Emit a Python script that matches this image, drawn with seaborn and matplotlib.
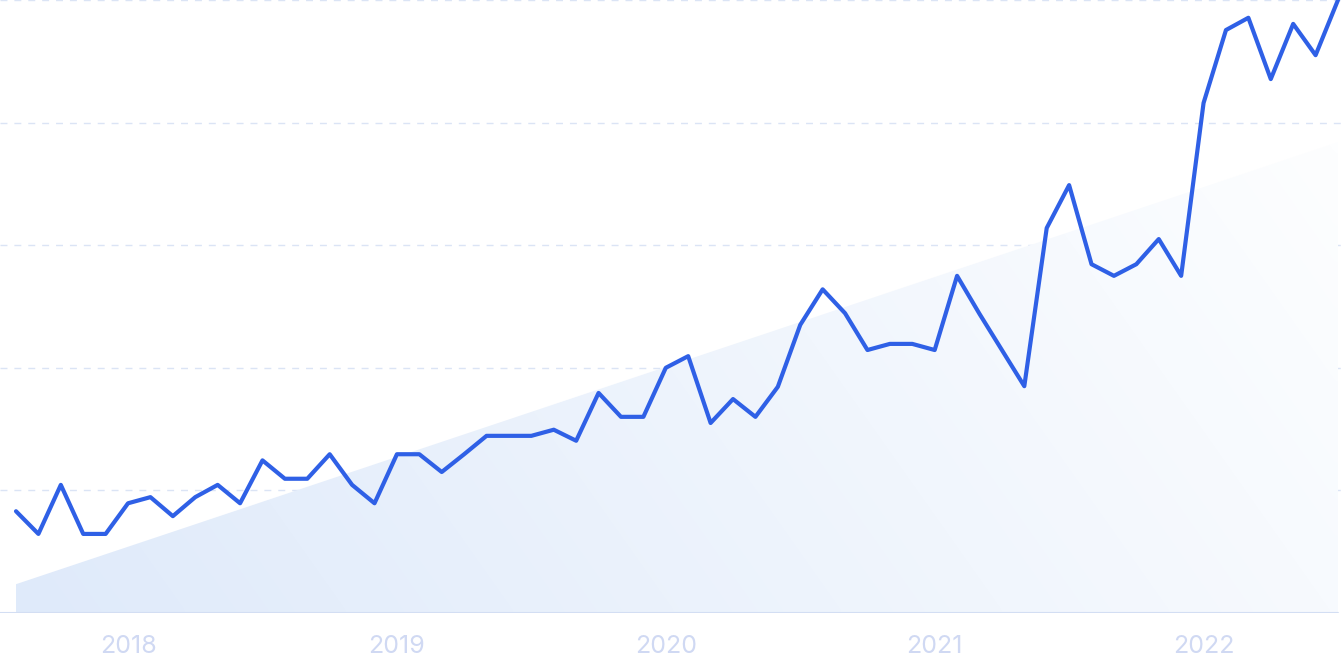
import numpy as np
import pandas as pd
import matplotlib
matplotlib.use("Agg")
import matplotlib.pyplot as plt
import seaborn as sns
from matplotlib.patches import Polygon
from matplotlib.colors import LinearSegmentedColormap

# ---- data (monthly, Aug 2017 .. Jul 2022), scale 0-100 ----
months = pd.date_range("2017-08-01", periods=60, freq="MS")
values = [16.6, 12.9, 20.9, 12.9, 12.9, 17.9, 18.9, 15.8, 18.9, 20.9,
          17.9, 24.9, 21.9, 21.9, 25.9, 20.9, 17.9, 25.9, 25.9, 23.0,
          25.9, 28.9, 28.9, 28.9, 29.9, 28.1, 35.9, 32.0, 32.0, 40.0,
          41.9, 31.0, 34.9, 32.0, 36.9, 47.0, 52.8, 48.9, 42.9, 43.9,
          43.9, 42.9, 55.0, 48.8, 42.9, 37.0, 62.8, 69.8, 56.9, 55.0,
          56.9, 61.0, 55.0, 83.2, 95.1, 97.1, 87.1, 96.1, 91.0, 100.0]
trend_start, trend_end = 4.7, 76.8
year_labels = ["2018", "2019", "2020", "2021", "2022"]
year_idx = [5, 17, 29, 41, 53]

df = pd.DataFrame({"i": np.arange(len(values)), "value": values})

sns.set_theme(style="white")
plt.rcParams["font.family"] = ["Inter", "DejaVu Sans"]

W, H = 1343, 671
fig = plt.figure(figsize=(W / 100, H / 100), dpi=100)
ax = fig.add_axes([0, 58 / H, 1, 613 / H])

n = len(values)
ax.set_xlim(-16 / 22.4, n - 1 + 5 / 22.4)
ax.set_ylim(0, 100)

# gradient trend area
x0, x1 = 0, n - 1
poly = Polygon([[x0, 0], [x0, trend_start], [x1, trend_end], [x1, 0]],
               closed=True, facecolor="none", edgecolor="none")
ax.add_patch(poly)
cmap = LinearSegmentedColormap.from_list("g", ["#dfeafa", "#fdfeff"])
gx, gy = np.meshgrid(np.linspace(0, 1, 300), np.linspace(0, 1, 100))
grad = 0.8 * gx + 0.2 * (1 - gy)
img = ax.imshow(grad, cmap=cmap, extent=[x0, x1, 0, trend_end], origin="upper",
                aspect="auto", zorder=1, interpolation="bicubic")
img.set_clip_path(poly)

# gridlines
for yv in [20, 40, 60, 80, 100]:
    ax.axhline(yv, color="#dbe4f5", lw=1.0, ls=(0, (5, 5)), zorder=0.5)
ax.axhline(0, color="#d3def3", lw=1.5, zorder=2, xmax=(n - 1 + 16 / 22.4) / (n - 1 + 21 / 22.4))

sns.lineplot(data=df, x="i", y="value", ax=ax, color="#2f60e6", lw=3.0, zorder=3)

for s in ax.spines.values():
    s.set_visible(False)
ax.set_xlabel("")
ax.set_ylabel("")
ax.set_yticks([])
ax.set_xticks(year_idx)
ax.set_xticklabels(year_labels, fontsize=18, color="#d0d9f3")
ax.tick_params(axis="x", length=0, pad=16)
ax.grid(False)

fig.savefig("out.png", dpi=100, facecolor="white")
